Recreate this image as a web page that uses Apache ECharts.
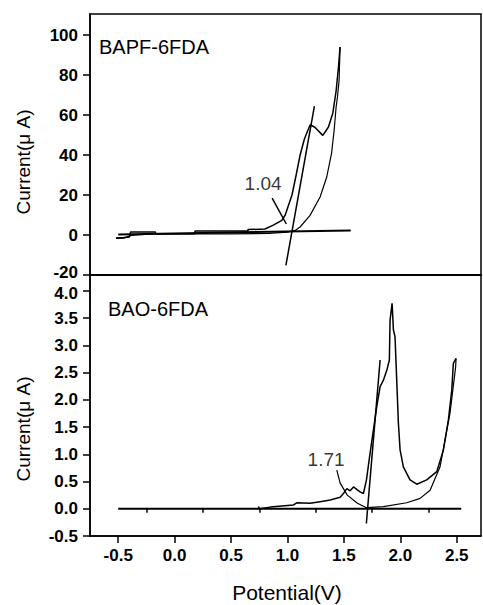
<!DOCTYPE html>
<html>
<head>
<meta charset="utf-8">
<script src="https://cdn.jsdelivr.net/npm/echarts@6/dist/echarts.min.js"></script>
<style>
  html, body { margin: 0; padding: 0; background: #fff; }
  #chart { width: 483px; height: 605px; }
</style>
</head>
<body>
<div id="chart"></div>
<script>
// Cyclic voltammograms of the two polyimide films, with onset-potential construction.

// Shared potential axis (V)
const potentialTicks = [-0.5, 0.0, 0.5, 1.0, 1.5, 2.0, 2.5];
const potentialMinorTicks = [-0.25, 0.25, 0.75, 1.25, 1.75, 2.25];

// BAPF-6FDA panel (current in µA)
const bapfTicks = [-20, 0, 20, 40, 60, 80, 100];
const bapfForward = [
  [-0.52, -1.5], [-0.45, -1.3], [-0.40, -1.0], [-0.39, 1.5], [-0.17, 1.5], [-0.17, 0.6],
  [0.18, 0.6], [0.18, 2.0], [0.65, 2.0], [0.65, 2.7], [0.80, 3.0], [0.87, 4.8],
  [0.95, 7.3], [0.98, 10], [1.04, 20], [1.077, 30], [1.112, 40], [1.15, 48],
  [1.20, 55], [1.24, 54], [1.313, 49.8], [1.363, 54], [1.401, 60.7], [1.431, 72],
  [1.452, 84], [1.466, 94]
];
const bapfReverse = [
  [1.466, 94], [1.457, 77], [1.443, 69], [1.431, 64], [1.413, 52], [1.39, 40.7],
  [1.348, 29], [1.289, 19], [1.2, 9.8], [1.112, 4], [1.068, 2.3], [1.0, 1.4],
  [0.83, 0.8], [0.5, 0.6], [-0.2, 0.6], [-0.39, -0.2], [-0.45, -1.6], [-0.52, -1.7]
];
const bapfBaseline = [[-0.5, 0.3], [1.56, 2.3]];
const bapfOnset = 1.04;
const bapfTangentSlope = 315;          // µA per V
const bapfTangentSpan = [-15.2, 64.4]; // current range of the tangent line
const bapfLabelAt = [0.784, 25.9];
const bapfPointer = [[0.864, 18.4], [0.99, 5.5]];

// BAO-6FDA panel (current in µA)
const baoTicks = [-0.5, 0.0, 0.5, 1.0, 1.5, 2.0, 2.5, 3.0, 3.5, 4.0];
const baoForward = [
  [0.743, 0.04], [0.75, 0.0], [0.846, 0.03], [1.053, 0.07], [1.083, 0.11], [1.2, 0.10],
  [1.289, 0.13], [1.378, 0.16], [1.467, 0.21], [1.496, 0.28], [1.526, 0.37], [1.555, 0.33],
  [1.585, 0.40], [1.643, 0.31], [1.673, 0.28], [1.70, 0.53], [1.732, 1.02], [1.791, 1.87],
  [1.821, 2.24], [1.85, 2.36], [1.88, 2.54], [1.903, 2.73], [1.909, 3.46], [1.927, 3.77],
  [1.939, 3.28], [1.953, 3.16], [1.983, 1.57], [1.998, 1.08], [2.027, 0.77], [2.086, 0.53],
  [2.146, 0.45], [2.234, 0.53], [2.323, 0.68], [2.382, 1.08], [2.426, 1.63], [2.456, 2.18],
  [2.47, 2.67], [2.494, 2.76]
];
const baoReverse = [
  [2.494, 2.76], [2.49, 2.6], [2.44, 1.75], [2.396, 1.26], [2.352, 0.77], [2.264, 0.34],
  [2.175, 0.19], [2.057, 0.11], [1.85, 0.04], [1.70, 0.02], [1.62, 0.10], [1.53, 0.25],
  [1.467, 0.47], [1.437, 0.71]
];
const baoBaseline = [[-0.5, 0.0], [2.54, 0.0]];
const baoOnset = 1.71;
const baoTangentSlope = 24.6;
const baoTangentSpan = [-0.27, 2.73];
const baoLabelAt = [1.342, 0.91];

// Baseline value at a potential (linear between the two baseline points)
function baselineAt(line, x) {
  const [a, b] = line;
  return a[1] + (b[1] - a[1]) * (x - a[0]) / (b[0] - a[0]);
}
// Tangent through the onset point on the baseline
function tangentLine(line, onset, slope, span) {
  const y0 = baselineAt(line, onset);
  return span.map(y => [onset + (y - y0) / slope, y]);
}

const FONT = 'Liberation Sans, Arial, sans-serif';
const X_MIN = -0.75, X_MAX = 2.715;
const fmt1 = v => (Math.abs(v) < 1e-9 ? 0 : v).toFixed(1);

function curve(data, xi, yi, w) {
  return {
    type: 'line', xAxisIndex: xi, yAxisIndex: yi, data: data,
    showSymbol: false, symbol: 'none', silent: true, animation: false,
    lineStyle: { color: '#000', width: w || 1.5 }
  };
}
function valueLabel(pos, value, xi, yi) {
  return {
    type: 'scatter', xAxisIndex: xi, yAxisIndex: yi, symbolSize: 0, silent: true,
    animation: false,
    data: [{ value: pos }],
    label: {
      show: true, position: 'inside', formatter: value.toFixed(2),
      color: '#000', fontFamily: FONT, fontSize: 19
    }
  };
}
const tickFont = { color: '#000', fontFamily: FONT, fontWeight: 'bold', fontSize: 17, lineHeight: 14 };
// The two panels meet where "-20" and "4.0" sit; nudge those two labels apart a little.
const nudgeUp = Object.assign({ padding: [0, 0, 5, 0] }, tickFont);
const nudgeDown = Object.assign({ padding: [5, 0, 0, 0] }, tickFont);

const chart = echarts.init(document.getElementById('chart'), null, { renderer: 'svg' });

chart.setOption({
  backgroundColor: '#fff',
  animation: false,
  grid: [
    { left: 90, top: 14, width: 391, height: 261, show: true, borderColor: '#000', borderWidth: 1.5, backgroundColor: 'transparent' },
    { left: 90, top: 275, width: 391, height: 261, show: true, borderColor: '#000', borderWidth: 1.5, backgroundColor: 'transparent' }
  ],
  xAxis: [
    {
      type: 'value', gridIndex: 0, min: X_MIN, max: X_MAX,
      axisLine: { show: true, onZero: false, lineStyle: { color: '#000', width: 1.5 } },
      axisTick: { show: false }, axisLabel: { show: false }, splitLine: { show: false }
    },
    {
      type: 'value', gridIndex: 1, min: X_MIN, max: X_MAX,
      axisLine: { show: true, onZero: false, lineStyle: { color: '#000', width: 1.5 } },
      axisTick: { show: true, length: 7, customValues: potentialTicks, lineStyle: { color: '#000', width: 1.5 } },
      axisLabel: Object.assign({ show: true, customValues: potentialTicks, formatter: fmt1, margin: 12 }, tickFont),
      splitLine: { show: false }
    },
    {
      type: 'value', gridIndex: 1, min: X_MIN, max: X_MAX, position: 'bottom',
      axisLine: { show: false },
      axisTick: { show: true, length: 4, customValues: potentialMinorTicks, lineStyle: { color: '#000', width: 1.5 } },
      axisLabel: { show: false }, splitLine: { show: false }
    }
  ],
  yAxis: [
    {
      type: 'value', gridIndex: 0, min: -20, max: 110.5,
      axisLine: { show: true, onZero: false, lineStyle: { color: '#000', width: 1.5 } },
      axisTick: { show: true, length: 7, customValues: bapfTicks, lineStyle: { color: '#000', width: 1.5 } },
      axisLabel: Object.assign({
        show: true, customValues: bapfTicks, margin: 12,
        formatter: v => (v === bapfTicks[0] ? '{lo|' + v + '}' : String(v)),
        rich: { lo: nudgeUp }
      }, tickFont),
      splitLine: { show: false }
    },
    {
      type: 'value', gridIndex: 1, min: -0.5, max: 4.29,
      axisLine: { show: true, onZero: false, lineStyle: { color: '#000', width: 1.5 } },
      axisTick: { show: true, length: 7, customValues: baoTicks, lineStyle: { color: '#000', width: 1.5 } },
      axisLabel: Object.assign({
        show: true, customValues: baoTicks, margin: 12,
        formatter: v => (v === baoTicks[baoTicks.length - 1] ? '{hi|' + fmt1(v) + '}' : fmt1(v)),
        rich: { hi: nudgeDown }
      }, tickFont),
      splitLine: { show: false }
    }
  ],
  series: [
    curve(bapfForward, 0, 0, 1.5),
    curve(bapfReverse, 0, 0, 1.2),
    curve(bapfBaseline, 0, 0, 2),
    curve(tangentLine(bapfBaseline, bapfOnset, bapfTangentSlope, bapfTangentSpan), 0, 0, 1.5),
    curve(bapfPointer, 0, 0, 1.5),
    valueLabel(bapfLabelAt, bapfOnset, 0, 0),

    curve(baoForward, 1, 1, 1.5),
    curve(baoReverse, 1, 1, 1.2),
    curve(baoBaseline, 1, 1, 2),
    curve(tangentLine(baoBaseline, baoOnset, baoTangentSlope, baoTangentSpan), 1, 1, 1.5),
    valueLabel(baoLabelAt, baoOnset, 1, 1)
  ],
  graphic: [
    { type: 'text', left: 99, top: 37, silent: true,
      style: { text: 'BAPF-6FDA', fill: '#000', font: '20px ' + FONT } },
    { type: 'text', left: 108, top: 299, silent: true,
      style: { text: 'BAO-6FDA', fill: '#000', font: '20px ' + FONT } },
    { type: 'text', x: 23, y: 162, rotation: Math.PI / 2, silent: true,
      style: { text: 'Current(μ A)', fill: '#000', font: '19px ' + FONT, align: 'center', verticalAlign: 'middle' } },
    { type: 'text', x: 23, y: 429, rotation: Math.PI / 2, silent: true,
      style: { text: 'Current(μ A)', fill: '#000', font: '19px ' + FONT, align: 'center', verticalAlign: 'middle' } },
    { type: 'text', x: 287, y: 592, silent: true,
      style: { text: 'Potential(V)', fill: '#000', font: '21px ' + FONT, align: 'center', verticalAlign: 'middle' } }
  ]
});
</script>
</body>
</html>
